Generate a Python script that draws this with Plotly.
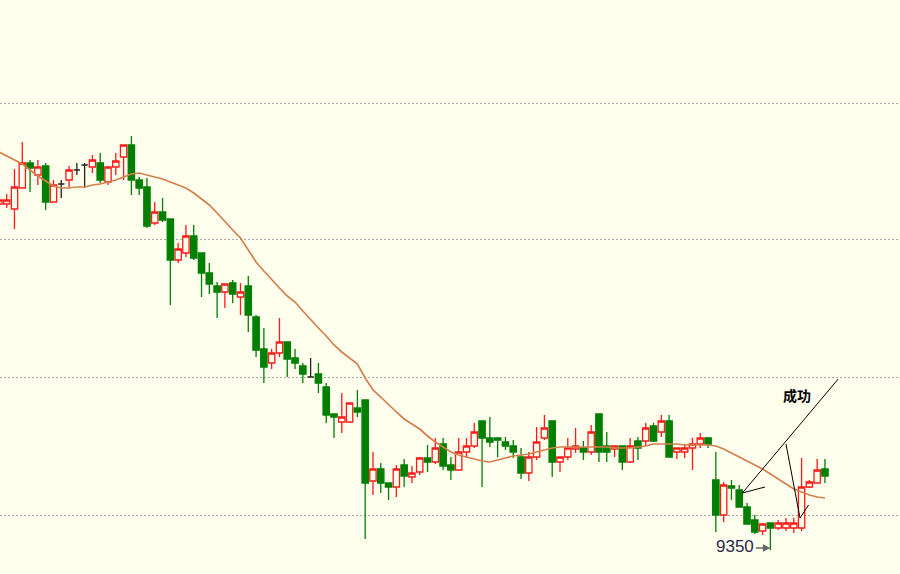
import pandas as pd
import plotly.graph_objects as go

# daily candles, oldest first (price units)
OPEN = [9696, 9696, 9691, 9712, 9737, 9725, 9734, 9698, 9716, 9720,
        9730, 9735, 9733, 9737, 9718, 9733, 9743, 9755, 9720, 9713,
        9677, 9688, 9681, 9640, 9647, 9664, 9647, 9627, 9614, 9608,
        9617, 9603, 9614, 9583, 9551, 9537, 9547, 9558, 9542, 9534,
        9523, 9526, 9513, 9486, 9478, 9478, 9492, 9500, 9419, 9431,
        9417, 9413, 9435, 9423, 9428, 9442, 9438, 9456, 9435, 9430,
        9448, 9454, 9479, 9462, 9462, 9458, 9454, 9443, 9427, 9443,
        9462, 9479, 9438, 9443, 9451, 9452, 9448, 9486, 9454, 9451,
        9454, 9438, 9459, 9459, 9474, 9468, 9479, 9448, 9448, 9452,
        9456, 9462, 9420, 9385, 9414, 9410, 9393, 9380, 9369, 9377,
        9372, 9372, 9372, 9372, 9413, 9417, 9431]
HIGH = [9702, 9706, 9731, 9758, 9740, 9740, 9737, 9720, 9720, 9734,
        9737, 9737, 9745, 9747, 9733, 9747, 9755, 9764, 9723, 9722,
        9698, 9702, 9681, 9657, 9675, 9675, 9647, 9637, 9618, 9616,
        9620, 9617, 9624, 9585, 9572, 9551, 9582, 9558, 9551, 9537,
        9542, 9537, 9517, 9486, 9507, 9497, 9510, 9500, 9448, 9437,
        9417, 9435, 9441, 9434, 9443, 9455, 9462, 9462, 9443, 9462,
        9462, 9477, 9479, 9483, 9462, 9463, 9460, 9452, 9448, 9473,
        9485, 9479, 9443, 9462, 9472, 9459, 9475, 9486, 9468, 9454,
        9454, 9462, 9463, 9477, 9477, 9485, 9485, 9452, 9456, 9462,
        9467, 9463, 9448, 9418, 9420, 9415, 9397, 9385, 9377, 9377,
        9380, 9382, 9382, 9442, 9420, 9441, 9441]
LOW = [9694, 9692, 9671, 9712, 9708, 9715, 9690, 9698, 9702, 9713,
       9725, 9712, 9727, 9717, 9715, 9725, 9720, 9705, 9705, 9672,
       9675, 9678, 9595, 9637, 9643, 9640, 9603, 9606, 9582, 9592,
       9597, 9585, 9568, 9543, 9517, 9531, 9543, 9523, 9531, 9517,
       9523, 9507, 9477, 9462, 9467, 9478, 9483, 9361, 9405, 9407,
       9400, 9403, 9413, 9417, 9425, 9428, 9436, 9430, 9420, 9430,
       9442, 9452, 9413, 9453, 9443, 9450, 9442, 9421, 9419, 9440,
       9460, 9423, 9428, 9440, 9447, 9440, 9445, 9438, 9438, 9443,
       9430, 9437, 9440, 9454, 9458, 9463, 9443, 9441, 9442, 9430,
       9452, 9452, 9368, 9378, 9400, 9393, 9376, 9366, 9365, 9350,
       9370, 9369, 9367, 9369, 9412, 9417, 9417]
CLOSE = [9700, 9700, 9713, 9737, 9732, 9733, 9698, 9715, 9716, 9730,
         9730, 9735, 9740, 9720, 9733, 9739, 9755, 9720, 9712, 9674,
         9688, 9680, 9640, 9651, 9664, 9642, 9627, 9616, 9608, 9616,
         9606, 9608, 9585, 9550, 9533, 9547, 9558, 9541, 9537, 9526,
         9523, 9517, 9485, 9483, 9483, 9497, 9488, 9417, 9431, 9417,
         9413, 9431, 9424, 9427, 9442, 9438, 9452, 9434, 9430, 9448,
         9454, 9468, 9462, 9458, 9460, 9454, 9448, 9427, 9443, 9458,
         9472, 9438, 9443, 9452, 9454, 9448, 9468, 9448, 9448, 9454,
         9438, 9454, 9452, 9472, 9459, 9479, 9443, 9452, 9452, 9456,
         9462, 9456, 9385, 9415, 9412, 9393, 9376, 9368, 9376, 9372,
         9377, 9377, 9377, 9413, 9418, 9430, 9424]
# moving average line as drawn on the chart
MA = [9748, 9744, 9740, 9736, 9730, 9724, 9719, 9714, 9712, 9712,
      9713, 9713, 9715, 9716, 9718, 9720, 9723, 9726, 9727, 9725,
      9723, 9721, 9718, 9715, 9712, 9707, 9701, 9695, 9687, 9678,
      9670, 9662, 9650, 9638, 9629, 9620, 9612, 9604, 9598, 9589,
      9580, 9572, 9564, 9555, 9548, 9542, 9536, 9522, 9510, 9503,
      9495, 9488, 9481, 9476, 9471, 9464, 9458, 9453, 9448, 9445,
      9443, 9441, 9439, 9438, 9440, 9442, 9444, 9445, 9446, 9448,
      9450, 9452, 9453, 9453, 9453, 9453, 9453, 9453, 9453, 9452,
      9452, 9452, 9453, 9454, 9456, 9456, 9456, 9456, 9455, 9455,
      9455, 9455, 9454, 9451, 9447, 9443, 9439, 9435, 9431, 9426,
      9421, 9416, 9411, 9408, 9405, 9403, 9402]
GRID_LEVELS = [9385, 9523, 9661, 9797]

BG = '#FFFFEE'
UP = '#FF1A1A'
DOWN = '#007F00'
FLAT = '#222222'

df = pd.DataFrame({'open': OPEN, 'high': HIGH, 'low': LOW, 'close': CLOSE, 'ma': MA})
df['bar'] = range(len(df))


def candles(sub, color, fill):
    style = dict(line=dict(color=color, width=1.3), fillcolor=fill)
    return go.Candlestick(x=sub['bar'], open=sub['open'], high=sub['high'],
                          low=sub['low'], close=sub['close'],
                          increasing=style, decreasing=style,
                          whiskerwidth=0, showlegend=False)


fig = go.Figure()
fig.add_trace(candles(df[df.close > df.open], UP, BG))
fig.add_trace(candles(df[df.close < df.open], DOWN, DOWN))
fig.add_trace(candles(df[df.close == df.open], FLAT, FLAT))
fig.add_trace(go.Scatter(x=df['bar'], y=df['ma'], mode='lines',
                         line=dict(color='#D4804C', width=1.7), showlegend=False))

# hand-drawn marks on the chart
for x0, y0, x1, y1 in [(95.4, 9407, 107.7, 9521), (95.4, 9407, 98.3, 9413),
                       (101.0, 9456, 102.8, 9382), (102.8, 9382, 103.9, 9395)]:
    fig.add_shape(type='line', x0=x0, y0=y0, x1=x1, y1=y1,
                  line=dict(color='black', width=1))

fig.add_annotation(x=102.4, y=9505, text='<b>成功</b>', showarrow=False,
                   font=dict(family='Noto Sans CJK SC', size=14, color='black'))
fig.add_annotation(x=97.2, y=9354, text='9350', showarrow=False, xanchor='right',
                   font=dict(family='Liberation Sans', size=17, color='#2A2A48'))
fig.add_annotation(x=99.0, y=9352, ax=96.95, ay=9352, axref='x', ayref='y',
                   text='', showarrow=True, arrowhead=2, arrowsize=1,
                   arrowwidth=1.5, arrowcolor='#666666')

fig.update_layout(width=900, height=574, margin=dict(l=0, r=0, t=0, b=0),
                  paper_bgcolor=BG, plot_bgcolor=BG,
                  boxgap=0.1, boxgroupgap=0.1, hovermode=False)
fig.update_xaxes(range=[0.14, 115.63], visible=False, rangeslider_visible=False)
fig.update_yaxes(range=[9326, 9900], tickvals=GRID_LEVELS, showticklabels=False,
                 showgrid=True, gridcolor='#A8A8A8', griddash='2px,2px', gridwidth=1,
                 zeroline=False, showline=False)
fig.write_html("out.html", config={'displayModeBar': False},
               post_script="document.body.style.margin='0';document.body.style.background='#FFFFEE';")
